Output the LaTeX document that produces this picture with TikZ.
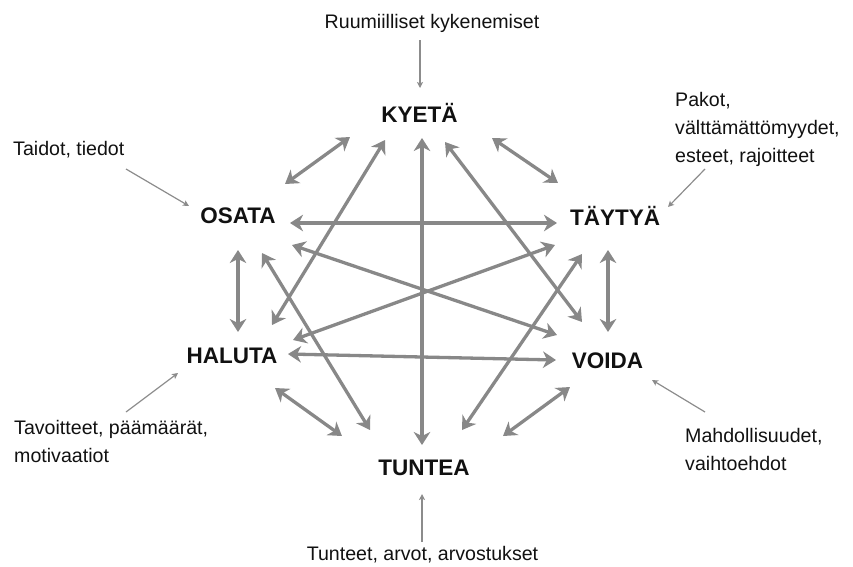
\documentclass[tikz,border=0pt]{standalone}
\usepackage{fontspec}
\setmainfont{Liberation Sans}
\usetikzlibrary{arrows.meta}
\definecolor{arrowgray}{HTML}{888888}
\definecolor{notegray}{HTML}{8C8C8C}
\definecolor{txt}{HTML}{111111}
\begin{document}
\begin{tikzpicture}[x=1pt,y=-1pt,
  big/.style={font=\bfseries\fontsize{22.5}{27}\selectfont, text=txt, inner sep=0pt, anchor=base},
  small/.style={font=\fontsize{19.6}{28}\selectfont, text=txt, inner sep=0pt, align=left},
  link/.style={draw=arrowgray, line width=3.3pt,
    {Stealth[length=13pt,width=16.5pt,inset=4pt]}-{Stealth[length=13pt,width=16.5pt,inset=4pt]}},
  note/.style={draw=notegray, line width=1.2pt, -{Stealth[length=6pt,width=6pt,inset=1.5pt]}}]
\useasboundingbox (0,0) rectangle (853,566);

% main concepts
\node[big] (K) at (419.5,122) {KYETÄ};
\node[big] (O) at (238,223) {OSATA};
\node[big] (T) at (615,225) {TÄYTYÄ};
\node[big] (H) at (232,363) {HALUTA};
\node[big] (V) at (607.5,368) {VOIDA};
\node[big] (U) at (424,475) {TUNTEA};

% notes (base anchor of a multi-line node = baseline of its last line)
\node[small, anchor=base] (nK) at (432,28) {Ruumiilliset kykenemiset};
\node[small, anchor=base west] (nO) at (13,155) {Taidot, tiedot};
\node[small, anchor=base west] (nT) at (675,162) {Pakot,\\välttämättömyydet,\\esteet, rajoitteet};
\node[small, anchor=base west] (nH) at (14,462) {Tavoitteet, päämäärät,\\motivaatiot};
\node[small, anchor=base west] (nV) at (685,470) {Mahdollisuudet,\\vaihtoehdot};
\node[small, anchor=base] (nU) at (422.5,560) {Tunteet, arvot, arvostukset};

% connector end points
\coordinate (KO1) at (350,137); \coordinate (KO2) at (285,184);
\coordinate (KT1) at (492,138); \coordinate (KT2) at (558,183);
\coordinate (KU1) at (422,138); \coordinate (KU2) at (422,445);
\coordinate (KH1) at (385,140); \coordinate (KH2) at (272,325);
\coordinate (KV1) at (445,142); \coordinate (KV2) at (582,322);
\coordinate (OT1) at (290,223); \coordinate (OT2) at (557,223);
\coordinate (OH1) at (238,250); \coordinate (OH2) at (238,332);
\coordinate (OV1) at (292,245); \coordinate (OV2) at (557,335);
\coordinate (OU1) at (262,253); \coordinate (OU2) at (370,430);
\coordinate (TH1) at (555,245); \coordinate (TH2) at (293,340);
\coordinate (TV1) at (608,250); \coordinate (TV2) at (608,332);
\coordinate (TU1) at (582,254); \coordinate (TU2) at (462,430);
\coordinate (HV1) at (288,354); \coordinate (HV2) at (556,360);
\coordinate (HU1) at (275,388); \coordinate (HU2) at (342,436);
\coordinate (VU1) at (570,387); \coordinate (VU2) at (503,436);

\foreach \p in {KO,KT,KU,KH,KV,OT,OH,OV,OU,TH,TV,TU,HV,HU,VU}
  \draw[link] (\p1) -- (\p2);

% note arrows
\coordinate (aK1) at (420,40);  \coordinate (aK2) at (420,88);
\coordinate (aO1) at (126,169); \coordinate (aO2) at (189,206);
\coordinate (aT1) at (705,169); \coordinate (aT2) at (668,207);
\coordinate (aH1) at (126,412); \coordinate (aH2) at (178,373);
\coordinate (aV1) at (705,412); \coordinate (aV2) at (652,380);
\coordinate (aU1) at (422,542); \coordinate (aU2) at (422,494);
\foreach \p in {aK,aO,aT,aH,aV,aU}
  \draw[note] (\p1) -- (\p2);
\end{tikzpicture}
\end{document}
